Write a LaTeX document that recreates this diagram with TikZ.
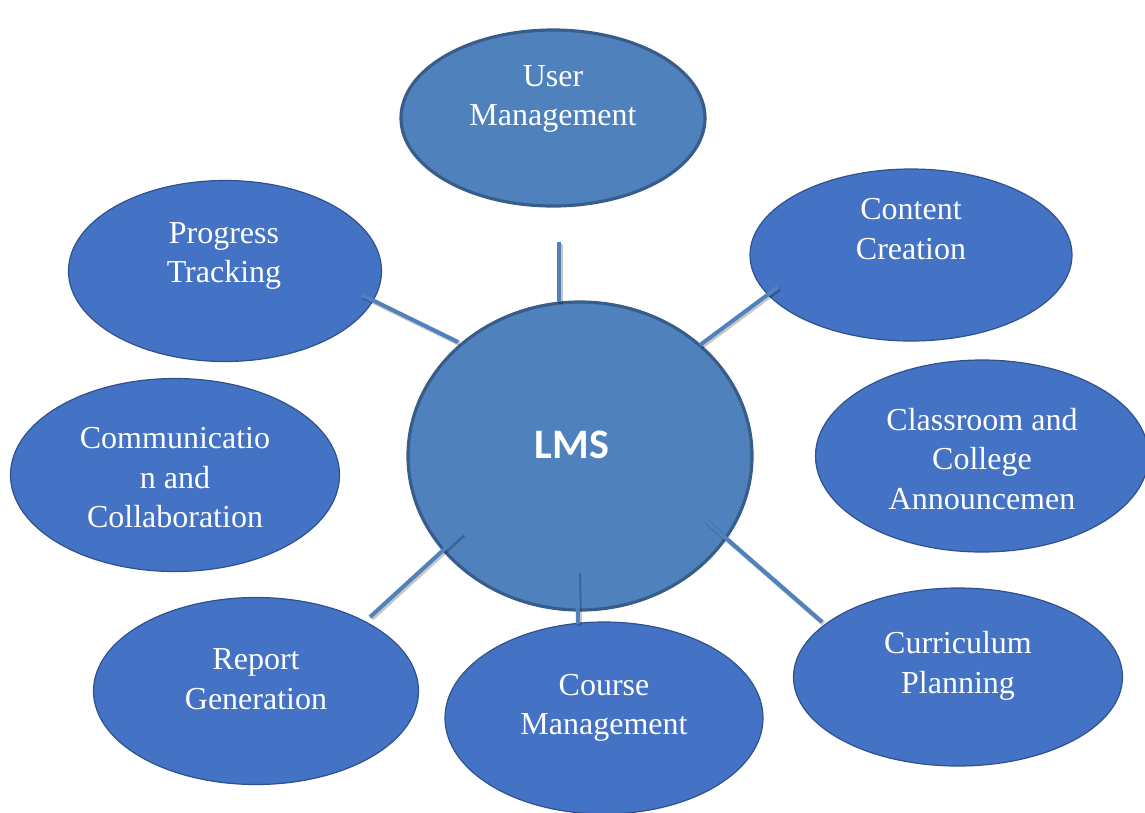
\documentclass[tikz,border=0pt]{standalone}
\usepackage{fontspec}
\setmainfont{Liberation Serif}
\newfontfamily\lmsfont{Carlito}
\usetikzlibrary{shapes.geometric}
\definecolor{outerfill}{HTML}{4472C4}
\definecolor{outerline}{HTML}{2F528F}
\definecolor{innerfill}{HTML}{4F81BD}
\definecolor{innerline}{HTML}{385D8A}
\tikzset{
  outerell/.style={ellipse, draw=outerline, line width=1.2pt, fill=outerfill, inner sep=0pt},
  innerell/.style={ellipse, draw=innerline, line width=3.2pt, fill=innerfill, inner sep=0pt},
  lbl/.style={text=white, align=center, font=\fontsize{32}{39.5}\selectfont, inner sep=0pt},
  conn/.style={draw=innerfill, line width=4pt},
  connshadow/.style={draw=black, opacity=0.22, line width=5pt, transform canvas={shift={(1.5pt,-1.5pt)}}},
}
\begin{document}
\begin{tikzpicture}[x=1pt,y=-1pt]
\useasboundingbox (0,0) rectangle (1145,812);
% ellipses
\node[innerell, minimum width=304, minimum height=176] (um) at (553,118) {};
\node[outerell, minimum width=322, minimum height=172] (cc) at (911,255) {};
\node[outerell, minimum width=313, minimum height=181] (pt) at (225,271) {};
\node[outerell, minimum width=329, minimum height=193] (cm) at (175,475) {};
\node[outerell, minimum width=333, minimum height=192] (ca) at (982,456) {};
\node[outerell, minimum width=325, minimum height=187] (rg) at (256,691) {};
\node[outerell, minimum width=318, minimum height=192] (cmg) at (604,718) {};
\node[outerell, minimum width=329, minimum height=178] (cp) at (958,677) {};
\node[innerell, minimum width=344, minimum height=308] (lms) at (580,456) {};
% connector end points
\coordinate (umE) at (559,242);
\coordinate (lmsT) at (559,302);
\coordinate (ptE) at (362,295);
\coordinate (lmsPT) at (458,342);
\coordinate (ccE) at (778,287);
\coordinate (lmsCC) at (700,345);
\coordinate (rgE) at (370,617);
\coordinate (lmsRG) at (462,533);
\coordinate (cmgE) at (578,624);
\coordinate (lmsCM) at (577,572);
\coordinate (cpE) at (822,622);
\coordinate (lmsCP) at (705,520);
\foreach \a/\b in {umE/lmsT, ptE/lmsPT, ccE/lmsCC, rgE/lmsRG, cmgE/lmsCM, cpE/lmsCP}{
  \draw[connshadow] (\a) -- (\b);
  \draw[conn] (\a) -- (\b);
}
% labels
\node[lbl] (umL) at (553,99) {User\\Management};
\node[lbl] (ccL) at (911,229) {Content\\Creation};
\node[lbl] (ptL) at (224,256) {Progress\\Tracking};
\node[lbl] (cmL) at (175,478) {Communicatio\\n and\\Collaboration};
\node[lbl] (caL) at (982,459) {Classroom and\\College\\Announcemen};
\node[lbl] (rgL) at (256,679) {Report\\Generation};
\node[lbl] (cmgL) at (604,708) {Course\\Management};
\node[lbl] (cpL) at (958,666) {Curriculum\\Planning};
\node[text=white, inner sep=0pt, font=\lmsfont\bfseries\fontsize{42}{44}\selectfont] (lmsL) at (572,445) {LMS};
\end{tikzpicture}
\end{document}
